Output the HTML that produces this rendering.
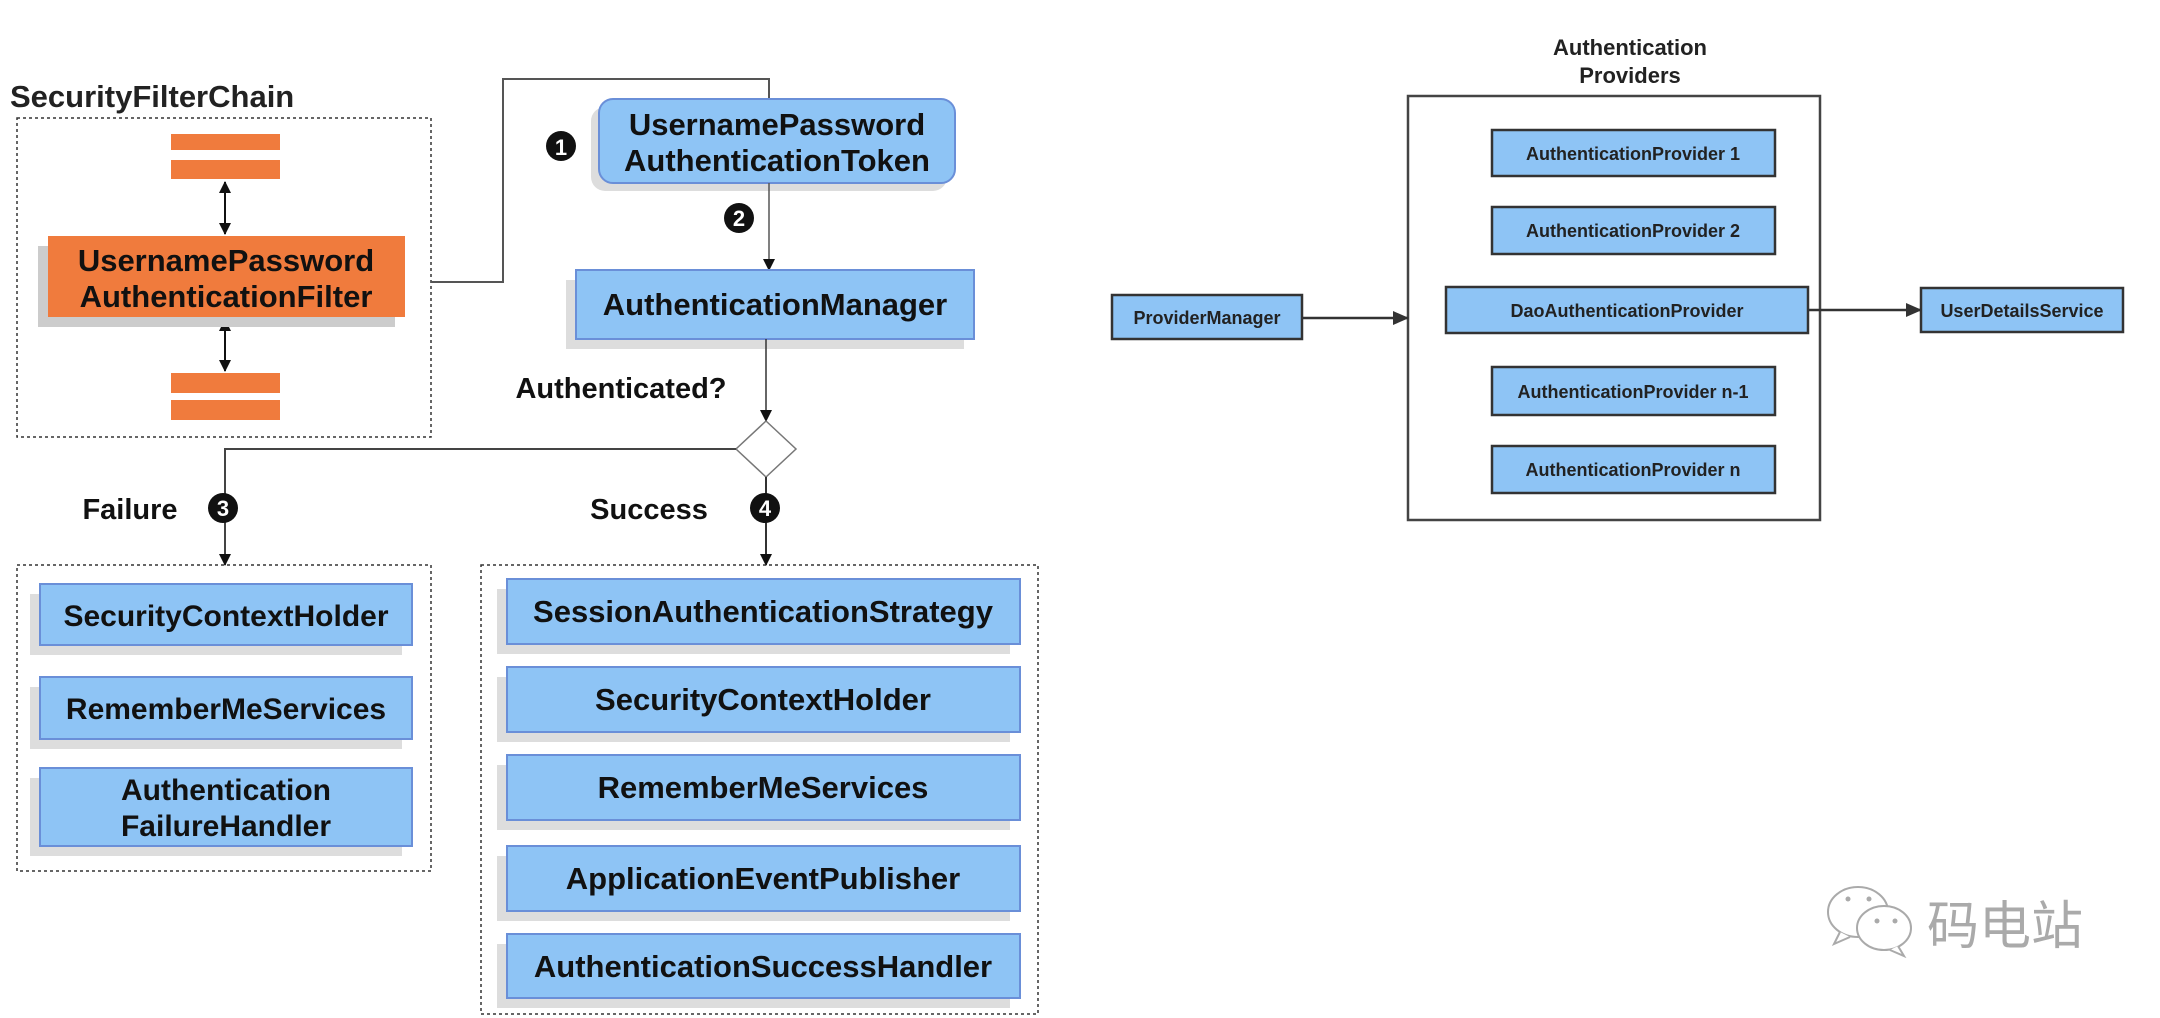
<!DOCTYPE html>
<html><head><meta charset="utf-8"><style>
html,body{margin:0;padding:0;background:#fff}
svg{display:block}
.b{font-family:"Liberation Sans",sans-serif;font-weight:bold;fill:#111;text-anchor:middle}
.r{font-family:"Liberation Sans",sans-serif;font-weight:bold;fill:#222;text-anchor:middle;font-size:18px}
</style></head><body>
<svg width="2160" height="1018" viewBox="0 0 2160 1018" xmlns="http://www.w3.org/2000/svg">
<defs>
<marker id="a" markerWidth="12" markerHeight="14" refX="11" refY="7" orient="auto" markerUnits="userSpaceOnUse"><path d="M0,1 L12,7 L0,13 z" fill="#111"/></marker>
<marker id="as" markerWidth="12" markerHeight="14" refX="1" refY="7" orient="auto" markerUnits="userSpaceOnUse"><path d="M12,1 L0,7 L12,13 z" fill="#111"/></marker>
<marker id="a2" markerWidth="16" markerHeight="16" refX="15" refY="8" orient="auto" markerUnits="userSpaceOnUse"><path d="M0,1 L16,8 L0,15 z" fill="#333"/></marker>
</defs>
<text x="10" y="107" font-family="Liberation Sans,sans-serif" font-weight="bold" font-size="31" fill="#222">SecurityFilterChain</text>
<rect x="17" y="118" width="414" height="319" fill="none" stroke="#333" stroke-width="1.5" stroke-dasharray="3,3"/>
<rect x="171" y="134" width="109" height="16" fill="#f07b3d"/>
<rect x="171" y="160" width="109" height="19" fill="#f07b3d"/>
<rect x="171" y="373" width="109" height="20" fill="#f07b3d"/>
<rect x="171" y="400" width="109" height="20" fill="#f07b3d"/>
<line x1="225" y1="182" x2="225" y2="234" stroke="#111" stroke-width="2" marker-start="url(#as)" marker-end="url(#a)"/>
<line x1="225" y1="320" x2="225" y2="371" stroke="#111" stroke-width="2" marker-start="url(#as)" marker-end="url(#a)"/>
<rect x="38" y="246" width="357" height="81" fill="#ccc"/>
<rect x="48" y="236" width="357" height="81" fill="#f07b3d"/>
<text class="b" x="226" y="271" font-size="31">UsernamePassword</text>
<text class="b" x="226" y="307" font-size="31">AuthenticationFilter</text>
<polyline points="431,282 503,282 503,79 769,79 769,99" fill="none" stroke="#555" stroke-width="2"/>
<rect x="591" y="107" width="356" height="84" rx="14" fill="#ddd"/>
<rect x="599" y="99" width="356" height="84" rx="14" fill="#8ec4f5" stroke="#6a8fd8" stroke-width="2"/>
<text class="b" x="777" y="135" font-size="31">UsernamePassword</text>
<text class="b" x="777" y="171" font-size="31">AuthenticationToken</text>
<circle cx="561" cy="146" r="15" fill="#111"/><text x="561" y="155" font-family="Liberation Sans" font-weight="bold" font-size="22" fill="#fff" text-anchor="middle">1</text>
<line x1="769" y1="183" x2="769" y2="270" stroke="#555" stroke-width="1.5" marker-end="url(#a)"/>
<circle cx="739" cy="218" r="15" fill="#111"/><text x="739" y="226" font-family="Liberation Sans" font-weight="bold" font-size="22" fill="#fff" text-anchor="middle">2</text>
<rect x="566" y="280" width="398" height="69" fill="#ddd"/>
<rect x="576" y="270" width="398" height="69" fill="#8ec4f5" stroke="#6a8fd8" stroke-width="2"/>
<text class="b" x="775" y="315" font-size="31">AuthenticationManager</text>
<line x1="766" y1="339" x2="766" y2="421" stroke="#333" stroke-width="1.5" marker-end="url(#a)"/>
<text class="b" x="621" y="398" font-size="29" fill="#222">Authenticated?</text>
<polygon points="766,421 796,449 766,477 736,449" fill="#fff" stroke="#777" stroke-width="1.5"/>
<polyline points="736,449 225,449 225,565" fill="none" stroke="#444" stroke-width="2" marker-end="url(#a)"/>
<line x1="766" y1="477" x2="766" y2="565" stroke="#333" stroke-width="2" marker-end="url(#a)"/>
<text class="b" x="130" y="519" font-size="29" fill="#222">Failure</text>
<circle cx="223" cy="508" r="15" fill="#111"/><text x="223" y="516" font-family="Liberation Sans" font-weight="bold" font-size="22" fill="#fff" text-anchor="middle">3</text>
<text class="b" x="649" y="519" font-size="29" fill="#222">Success</text>
<circle cx="765" cy="508" r="15" fill="#111"/><text x="765" y="516" font-family="Liberation Sans" font-weight="bold" font-size="22" fill="#fff" text-anchor="middle">4</text>
<rect x="17" y="565" width="414" height="306" fill="none" stroke="#333" stroke-width="1.5" stroke-dasharray="3,3"/>
<g>
<rect x="30" y="594" width="372" height="61" fill="#ddd"/><rect x="40" y="584" width="372" height="61" fill="#8ec4f5" stroke="#6a8fd8" stroke-width="2"/>
<text class="b" x="226" y="626" font-size="30">SecurityContextHolder</text>
<rect x="30" y="687" width="372" height="62" fill="#ddd"/><rect x="40" y="677" width="372" height="62" fill="#8ec4f5" stroke="#6a8fd8" stroke-width="2"/>
<text class="b" x="226" y="719" font-size="30">RememberMeServices</text>
<rect x="30" y="778" width="372" height="78" fill="#ddd"/><rect x="40" y="768" width="372" height="78" fill="#8ec4f5" stroke="#6a8fd8" stroke-width="2"/>
<text class="b" x="226" y="800" font-size="30">Authentication</text>
<text class="b" x="226" y="836" font-size="30">FailureHandler</text>
</g>
<rect x="481" y="565" width="557" height="449" fill="none" stroke="#333" stroke-width="1.5" stroke-dasharray="3,3"/>
<g>
<rect x="497" y="589" width="513" height="65" fill="#ddd"/><rect x="507" y="579" width="513" height="65" fill="#8ec4f5" stroke="#6a8fd8" stroke-width="2"/>
<text class="b" x="763" y="622" font-size="31">SessionAuthenticationStrategy</text>
<rect x="497" y="677" width="513" height="65" fill="#ddd"/><rect x="507" y="667" width="513" height="65" fill="#8ec4f5" stroke="#6a8fd8" stroke-width="2"/>
<text class="b" x="763" y="710" font-size="31">SecurityContextHolder</text>
<rect x="497" y="765" width="513" height="65" fill="#ddd"/><rect x="507" y="755" width="513" height="65" fill="#8ec4f5" stroke="#6a8fd8" stroke-width="2"/>
<text class="b" x="763" y="798" font-size="31">RememberMeServices</text>
<rect x="497" y="856" width="513" height="65" fill="#ddd"/><rect x="507" y="846" width="513" height="65" fill="#8ec4f5" stroke="#6a8fd8" stroke-width="2"/>
<text class="b" x="763" y="889" font-size="31">ApplicationEventPublisher</text>
<rect x="497" y="944" width="513" height="64" fill="#ddd"/><rect x="507" y="934" width="513" height="64" fill="#8ec4f5" stroke="#6a8fd8" stroke-width="2"/>
<text class="b" x="763" y="977" font-size="31">AuthenticationSuccessHandler</text>
</g>
<text class="r" x="1630" y="55" style="font-size:22px">Authentication</text>
<text class="r" x="1630" y="83" style="font-size:22px">Providers</text>
<rect x="1408" y="96" width="412" height="424" fill="none" stroke="#444" stroke-width="2.5"/>
<g stroke="#333" stroke-width="2.5" fill="#8ec4f5">
<rect x="1492" y="130" width="283" height="46"/>
<rect x="1492" y="207" width="283" height="47"/>
<rect x="1446" y="287" width="362" height="46"/>
<rect x="1492" y="367" width="283" height="48"/>
<rect x="1492" y="446" width="283" height="47"/>
<rect x="1112" y="295" width="190" height="44"/>
<rect x="1921" y="288" width="202" height="44"/>
</g>
<text class="r" x="1633" y="160">AuthenticationProvider 1</text>
<text class="r" x="1633" y="237">AuthenticationProvider 2</text>
<text class="r" x="1627" y="317">DaoAuthenticationProvider</text>
<text class="r" x="1633" y="398">AuthenticationProvider n-1</text>
<text class="r" x="1633" y="476">AuthenticationProvider n</text>
<text class="r" x="1207" y="324">ProviderManager</text>
<text class="r" x="2022" y="317">UserDetailsService</text>
<line x1="1302" y1="318" x2="1408" y2="318" stroke="#333" stroke-width="2.5" marker-end="url(#a2)"/>
<line x1="1808" y1="310" x2="1921" y2="310" stroke="#333" stroke-width="2.5" marker-end="url(#a2)"/>
<g fill="#fff" stroke="#aaa" stroke-width="2">
<ellipse cx="1858" cy="912" rx="30" ry="25"/>
<path d="M1840,932 l-6,12 l16,-7"/>
<ellipse cx="1884" cy="928" rx="27" ry="22"/>
<path d="M1898,946 l6,10 l-14,-6"/>
</g>
<g fill="#aaa"><circle cx="1848" cy="899" r="2.5"/><circle cx="1869" cy="899" r="2.5"/><circle cx="1877" cy="921" r="2.5"/><circle cx="1895" cy="921" r="2.5"/></g>
<text x="1927" y="944" font-family="Liberation Sans,'Noto Sans CJK SC',sans-serif" font-size="52" fill="#aaa">码电站</text>
</svg>
</body></html>
